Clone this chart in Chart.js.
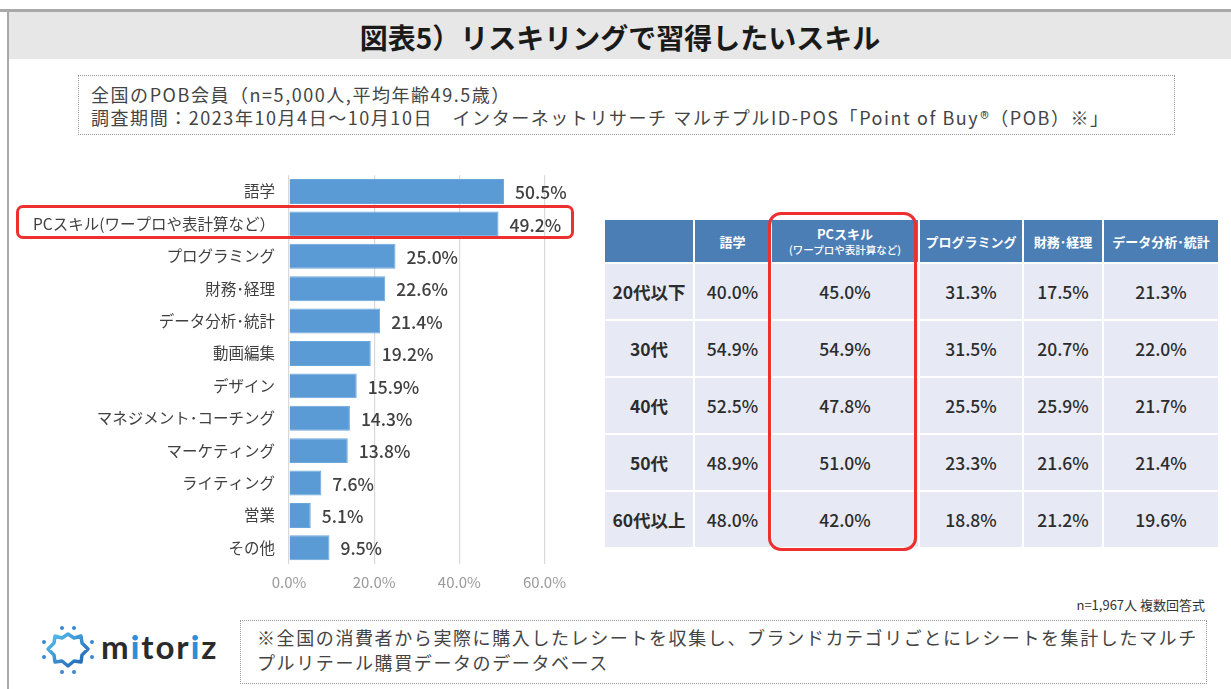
<!DOCTYPE html>
<html lang="ja">
<head>
<meta charset="utf-8">
<script src="https://cdn.jsdelivr.net/npm/chart.js@4.4.0/dist/chart.umd.min.js"></script>
<style>
  body { margin: 0; width: 1231px; height: 689px; background: #fff; position: relative; overflow: hidden;
         font-family: "Noto Sans CJK JP", "Noto Sans", sans-serif; color: #404040; }
  .abs { position: absolute; }
  #topline { left: 0; top: 9px; width: 1231px; height: 3px; background: #a9a9a9; }
  #titlebar { left: 9px; top: 12px; width: 1222px; height: 47px; background: #e7e7e7;
              text-align: center; line-height: 50px; font-size: 28px; font-weight: 700; color: #1a1a1a; }
  #leftline { left: 7px; top: 12px; width: 2px; height: 677px; background: #a9a9a9; }
  #info { left: 78px; top: 75px; width: 1097px; height: 60px; border: 1.5px dotted #9a9a9a;
          font-size: 18px; line-height: 23px; padding: 7px 0 0 12px; box-sizing: border-box; color: #444; letter-spacing: 1.55px; }
  #chartwrap { left: 0; top: 160px; width: 575px; height: 440px; }
  #redbox1 { left: 16px; top: 205px; width: 558px; height: 34px; border: 3px solid #ee2f2f; border-radius: 7px; box-sizing: border-box; }
  #tbl { left: 603px; top: 218px; border-collapse: collapse; }
  #tbl th, #tbl td { border: 2px solid #fff; padding: 0; text-align: center; }
  #tbl th { background: #4a7eb5; color: #fff; font-weight: 700; font-size: 13px; height: 42px; line-height: 15px; }
  #tbl td { background: #e7eaf4; color: #2c2c2c; font-size: 17.5px; font-weight: 500; height: 55px; }
  #tbl td.rl { font-weight: 700; }
  #redbox2 { left: 768px; top: 212px; width: 149px; height: 339px; border: 3px solid #ee2f2f; border-radius: 13px; box-sizing: border-box; }
  #nnote { right: 26px; top: 595px; font-size: 13px; color: #333; }
  #foot { left: 240px; top: 620px; width: 967px; height: 64px; border: 1.5px dotted #9a9a9a; box-sizing: border-box;
          font-size: 18px; line-height: 25px; padding: 4px 0 0 16px; color: #444; letter-spacing: 1.6px; }
  #logo { left: 38px; top: 624px; }
  #logotext { left: 101px; top: 626px; font-family: "Lato", "DejaVu Sans", sans-serif; font-size: 33px; font-weight: 700;
              color: #2b2b2b; letter-spacing: 2px; }
  #logotext b { color: #2a8fd6; }
</style>
</head>
<body>
<div id="topline" class="abs"></div>
<div id="titlebar" class="abs">図表5）リスキリングで習得したいスキル</div>
<div id="leftline" class="abs"></div>
<div id="info" class="abs">全国のPOB会員（n=5,000人,平均年齢49.5歳）<br>調査期間：2023年10月4日～10月10日　インターネットリサーチ マルチプルID-POS「Point of Buy®（POB）※」</div>

<div id="chartwrap" class="abs"><canvas id="bars" width="575" height="440"></canvas></div>
<div id="redbox1" class="abs"></div>

<table id="tbl" class="abs"><thead></thead><tbody></tbody></table>
<div id="redbox2" class="abs"></div>

<div id="nnote" class="abs">n=1,967人 複数回答式</div>
<svg id="logo" class="abs" width="60" height="52" viewBox="0 0 60 52">
  <defs>
    <linearGradient id="lg" x1="0" y1="0" x2="1" y2="1">
      <stop offset="0" stop-color="#58c3f0"/><stop offset="1" stop-color="#1f5fb0"/>
    </linearGradient>
  </defs>
  <polygon points="30,10 36,14 43,12 44,19 50,25 44,31 43,38 36,37 30,42 24,37 17,38 16,31 10,25 16,19 17,12 24,14"
           fill="none" stroke="url(#lg)" stroke-width="3.5" stroke-linejoin="round"/>
  <g fill="#3a88d0">
    <circle cx="24" cy="4" r="2"/><circle cx="36" cy="4" r="2"/>
    <circle cx="54" cy="18" r="2"/><circle cx="54" cy="33" r="2"/>
    <circle cx="24" cy="48" r="2"/><circle cx="36" cy="48" r="2"/>
    <circle cx="6" cy="18" r="2"/><circle cx="6" cy="33" r="2"/>
  </g>
</svg>
<div id="logotext" class="abs">m<b>i</b>tor<b>i</b>z</div>
<div id="foot" class="abs">※全国の消費者から実際に購入したレシートを収集し、ブランドカテゴリごとにレシートを集計したマルチ<br>プルリテール購買データのデータベース</div>

<script>
// bar chart data
const skills = ['語学', 'PCスキル(ワープロや表計算など）', 'プログラミング', '財務･経理', 'データ分析･統計',
  '動画編集', 'デザイン', 'マネジメント･コーチング', 'マーケティング', 'ライティング', '営業', 'その他'];
const skillPct = [50.5, 49.2, 25.0, 22.6, 21.4, 19.2, 15.9, 14.3, 13.8, 7.6, 5.1, 9.5];
const xTicks = [0, 20, 40, 60];

// table data
const ageGroups = ['20代以下', '30代', '40代', '50代', '60代以上'];
const tableCols = ['語学', 'PCスキル', 'プログラミング', '財務･経理', 'データ分析･統計'];
const gogaku = [40.0, 54.9, 52.5, 48.9, 48.0];
const pcSkill = [45.0, 54.9, 47.8, 51.0, 42.0];
const programming = [31.3, 31.5, 25.5, 23.3, 18.8];
const zaimu = [17.5, 20.7, 25.9, 21.6, 21.2];
const dataBunseki = [21.3, 22.0, 21.7, 21.4, 19.6];

const FONT = '"Noto Sans CJK JP", "Noto Sans", sans-serif';

const valueLabels = {
  id: 'valueLabels',
  afterDatasetsDraw(chart) {
    const ctx = chart.ctx;
    const meta = chart.getDatasetMeta(0);
    ctx.save();
    ctx.font = '500 17.5px ' + FONT;
    ctx.fillStyle = '#404040';
    ctx.textAlign = 'left';
    ctx.textBaseline = 'middle';
    meta.data.forEach((bar, i) => {
      ctx.fillText(skillPct[i].toFixed(1) + '%', bar.x + 11, bar.y + 1);
    });
    ctx.restore();
  }
};

new Chart(document.getElementById('bars'), {
  type: 'bar',
  data: {
    labels: skills,
    datasets: [{
      data: skillPct,
      backgroundColor: '#5b9bd5',
      borderColor: '#6aa6dc',
      borderWidth: 1,
      barPercentage: 0.77,
      categoryPercentage: 1
    }]
  },
  options: {
    indexAxis: 'y',
    responsive: false,
    animation: false,
    layout: { padding: { top: 6, right: 24, bottom: 0, left: 0 } },
    plugins: { legend: { display: false }, tooltip: { enabled: false } },
    scales: {
      x: {
        min: 0, max: 60,
        afterBuildTicks: (scale) => { scale.ticks = xTicks.map(v => ({ value: v })); },
        grid: { color: '#d9d9d9', lineWidth: 1.2, drawTicks: false },
        border: { display: false },
        ticks: { padding: 9, color: '#9a9a9a', font: { family: FONT, size: 15 }, callback: v => v.toFixed(1) + '%' }
      },
      y: {
        afterFit: (scale) => { scale.width = 289; },
        grid: { display: false },
        border: { display: false },
        ticks: { padding: 6, color: '#404040', font: { family: FONT, size: 15.5 } }
      }
    }
  },
  plugins: [valueLabels]
});

// build table from arrays
const colData = [gogaku, pcSkill, programming, zaimu, dataBunseki];
const colWidths = [88, 75, 146, 102, 78, 114];
const thead = document.querySelector('#tbl thead');
let hr = '<tr><th style="width:' + colWidths[0] + 'px"></th>';
tableCols.forEach((c, j) => {
  let txt = c;
  if (c === 'PCスキル') txt = 'PCスキル<br><span style="font-size:10.5px;font-weight:500">(ワープロや表計算など)</span>';
  hr += '<th style="width:' + colWidths[j + 1] + 'px">' + txt + '</th>';
});
thead.innerHTML = hr + '</tr>';
const tbody = document.querySelector('#tbl tbody');
let rows = '';
ageGroups.forEach((g, i) => {
  rows += '<tr><td class="rl">' + g + '</td>';
  colData.forEach(col => { rows += '<td>' + col[i].toFixed(1) + '%</td>'; });
  rows += '</tr>';
});
tbody.innerHTML = rows;
</script>
</body>
</html>
